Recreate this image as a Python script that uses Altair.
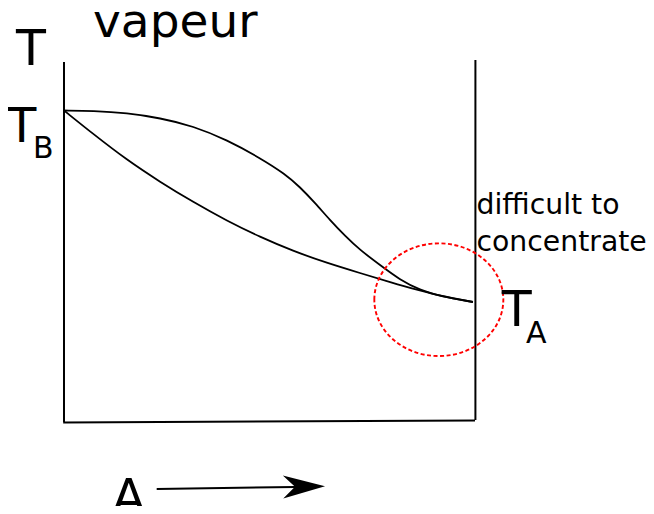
import altair as alt
import pandas as pd

# composition axis: 0 = left wall, 1 = right wall ; temperature axis in arbitrary units
dew_x = [0.000, 0.071, 0.153, 0.234, 0.314, 0.397, 0.477, 0.538, 0.574, 0.611,
         0.647, 0.684, 0.720, 0.769, 0.818, 0.866, 0.915, 0.995]
dew_t = [310.5, 310.2, 308, 303, 295, 281, 263, 247, 234, 218,
         201, 185, 171, 156, 141, 131, 125, 119]
bub_x = [0.000, 0.071, 0.153, 0.234, 0.314, 0.397, 0.477, 0.557, 0.640, 0.720,
         0.800, 0.866, 0.915, 0.995]
bub_t = [310.5, 287, 261, 239, 219, 200, 184, 170, 158, 148,
         138, 130.5, 125, 119]

frame_x = [0.0, 1.001, -0.002]
frame_y = [359, 361, -1.5]
frame_x2 = [0.0, 1.001, 1.0]
frame_y2 = [-1, 1, 0.5]

label_text = ["T", "vapeur", "T", "B", "T", "A", "difficult to", "concentrate", "A"]
label_x = [-0.1168, 0.0706, -0.1387, -0.0754, 1.065, 1.124, 1.0036, 1.0036, 0.1168]
label_y = [356, 384.3, 279.3, 262.7, 95, 77.7, 206.7, 170.3, -93]
label_size = [49, 47, 48, 30, 49, 30, 28.3, 28.3, 49]

circle_x = [0.912]
circle_y = [121.3]

arrow_x = [0.2255]
arrow_y = [-68]
arrow_x2 = [0.562]
arrow_y2 = [-66]
head_x = [0.584]
head_y = [-65.7]

FONT = "DejaVu Sans"
xs = alt.Scale(domain=[-0.13625, 1.41606], nice=False, zero=False)
ys = alt.Scale(domain=[-85, 413], nice=False, zero=False)

curves = pd.DataFrame({
    "x": dew_x + bub_x,
    "y": dew_t + bub_t,
    "curve": ["dew"] * len(dew_x) + ["bubble"] * len(bub_x),
    "order": list(range(len(dew_x))) + list(range(len(bub_x))),
})
frame = pd.DataFrame({"x": frame_x, "y": frame_y, "x2": frame_x2, "y2": frame_y2})
labels = pd.DataFrame({"text": label_text, "x": label_x, "y": label_y, "size": label_size})
circ = pd.DataFrame({"x": circle_x, "y": circle_y})
arrow = pd.DataFrame({"x": arrow_x, "y": arrow_y, "x2": arrow_x2, "y2": arrow_y2})
head = pd.DataFrame({"x": head_x, "y": head_y})

X = alt.X("x:Q", scale=xs, axis=None)
Y = alt.Y("y:Q", scale=ys, axis=None)

frame_layer = alt.Chart(frame).mark_rule(color="black", strokeWidth=2).encode(
    x=X, y=Y, x2="x2:Q", y2="y2:Q")

curve_layer = alt.Chart(curves).mark_line(
    interpolate="basis", color="black", strokeWidth=1.8).encode(
    x=X, y=Y, detail="curve:N", order="order:Q")

ellipse = "M -1 0 A 1 0.874 0 1 1 1 0 A 1 0.874 0 1 1 -1 0 Z"
circle_layer = alt.Chart(circ).mark_point(
    shape=ellipse, size=16641, filled=False, stroke="red", color="red",
    strokeDash=[4, 2.5], strokeWidth=1.9, opacity=1).encode(x=X, y=Y)

arrow_layer = alt.Chart(arrow).mark_rule(color="black", strokeWidth=2).encode(
    x=X, y=Y, x2="x2:Q", y2="y2:Q")

head_shape = "M 1 0 L -1 -0.55 L -0.43 0 L -1 0.55 Z"
head_layer = alt.Chart(head).mark_point(
    shape=head_shape, size=1764, filled=True, color="black", opacity=1,
    strokeWidth=0, angle=359).encode(x=X, y=Y)

text_layer = alt.Chart(labels).mark_text(
    align="left", baseline="alphabetic", font=FONT, color="black").encode(
    x=X, y=Y, text="text:N", size=alt.Size("size:Q", scale=None))

chart = alt.layer(
    frame_layer, curve_layer, circle_layer, arrow_layer, head_layer, text_layer
).properties(
    width=638, height=498,
    autosize=alt.AutoSizeParams(type="none"),
    padding=0,
    background="white",
).configure_view(stroke=None)

chart.save("out.html", embed_options={"renderer": "svg", "actions": False})
